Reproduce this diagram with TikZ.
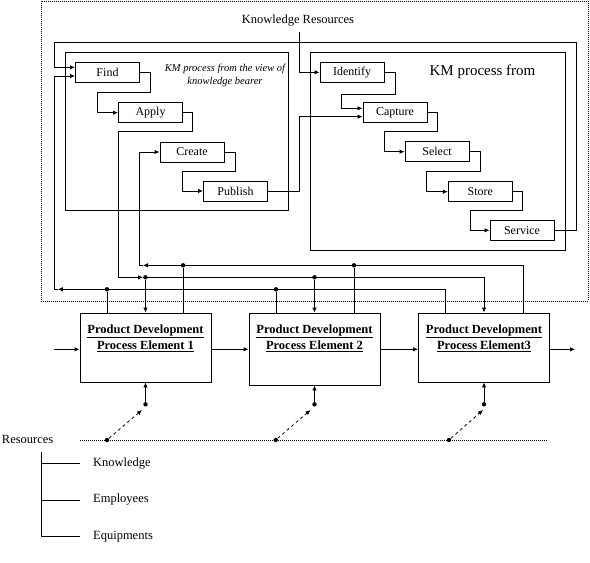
\documentclass[tikz,border=0pt]{standalone}
\usepackage{fontspec}
\setmainfont{Liberation Serif}
\usetikzlibrary{arrows.meta,calc}
\begin{document}
\begin{tikzpicture}[x=1pt,y=-1pt, line width=0.9pt,
 arr/.style={-{Latex[length=5pt,width=4.5pt]}},
 kmbox/.style={draw, minimum width=64pt, minimum height=20pt, inner sep=0pt, font=\fontsize{12}{14}\selectfont},
 container/.style={draw, inner sep=0pt},
 pdbox/.style={draw, minimum width=131pt, inner sep=0pt},
 pdtext/.style={align=center, inner sep=0pt, font=\fontsize{12.5}{16}\selectfont\bfseries},
 jdot/.style={circle, fill, inner sep=0pt, minimum size=4.4pt},
 lbl/.style={font=\fontsize{12.5}{15}\selectfont, inner sep=0pt},
 dotline/.style={line width=0.8pt, dash pattern=on 0.8pt off 1.2pt},
 dashline/.style={line width=0.8pt, dash pattern=on 3pt off 3pt},
]
\useasboundingbox (0,0) rectangle (590,563);

% outer dotted frame
\node[draw, dotline, minimum width=547pt, minimum height=300pt, inner sep=0pt] (frame) at (314.5,151) {};

% containers
\node[container, minimum width=222.6pt, minimum height=157.7pt] (leftkm) at (177,131.2) {};
\node[container, minimum width=255.3pt, minimum height=197.7pt] (rightkm) at (437.7,151.2) {};

% titles
\node[lbl] (kr) at (298,21) {Knowledge Resources};
\node[font=\fontsize{10.5}{13.3}\selectfont\itshape, align=center, inner sep=0pt] (lefttitle) at (225,75.7) {KM process from the view of\\knowledge bearer};
\node[font=\fontsize{15}{18}\selectfont, inner sep=0pt] (righttitle) at (482.5,72) {KM process from};

% KM steps
\node[kmbox] (find) at (107.5,72.3) {Find};
\node[kmbox] (apply) at (150.5,112.7) {Apply};
\node[kmbox] (create) at (192,152) {Create};
\node[kmbox] (publish) at (235.5,191) {Publish};
\node[kmbox] (identify) at (352,72.3) {Identify};
\node[kmbox] (capture) at (395,112.7) {Capture};
\node[kmbox] (select) at (437,151.7) {Select};
\node[kmbox] (store) at (480.3,191.7) {Store};
\node[kmbox] (service) at (522,230.3) {Service};

% process elements
\node[pdbox, minimum height=69pt] (p1) at (145.5,347.5) {};
\node[pdbox, minimum height=72pt] (p2) at (314.5,349) {};
\node[pdbox, minimum height=69pt] (p3) at (484,347.5) {};
\node[pdtext] (p1t) at (145.5,338) {\underline{Product Development}\\\underline{Process Element 1}};
\node[pdtext] (p2t) at (314.5,338) {\underline{Product Development}\\\underline{Process Element 2}};
\node[pdtext] (p3t) at (484,338) {\underline{Product Development}\\\underline{Process Element3}};

% KM internal flows
\coordinate (krs) at (299.3,32);
\draw[arr] (krs) |- (identify.west);
\draw[arr] (find.east) -- (150.7,72.3) |- (97.3,92.7) |- (apply.west);
\draw[arr] (create.east) -- (235,152) |- (182.7,171.7) |- (publish.west);
\draw[arr] (identify.east) -- (395,72.3) |- (341,94) |- ($(capture.west)+(0,-4.4)$);
\draw[arr] (publish.east) -- (299.7,191) |- ($(capture.west)+(0,4)$);
\draw[arr] (capture.east) -- (437.7,112.7) |- (384.3,131.7) |- (select.west);
\draw[arr] (select.east) -- (480,151.7) |- (426.7,171.7) |- (store.west);
\draw[arr] (store.east) -- (522.3,191.7) |- (470,210.7) |- (service.west);
\draw[arr] (service.east) -- (576,230.3) |- (54.3,42.3) |- ($(find.west)+(0,-5)$);

% line 2 (Apply -> process elements)
\coordinate (l2a) at (143,277.3);
\draw[arr] (apply.east) -- (192.3,112.7) |- (118.3,131) |- (l2a);
\draw[arr] (l2a) -| (p3.north);
\node[jdot] (j21) at (145.5,277.3) {};
\node[jdot] (j22) at (314.5,277.3) {};
\draw[arr] (j21) -- (p1.north);
\draw[arr] (j22) -- (p2.north);

% line 1 (process elements -> Create)
\coordinate (l1a) at (143,265.3);
\draw[arr] ($(p3.north)+(39,0)$) |- (l1a);
\draw[arr] (l1a) -- (139.3,265.3) |- (create.west);
\node[jdot] (j11) at (183,265.3) {};
\node[jdot] (j12) at (354,265.3) {};
\draw (j11) -- (j11 |- p1.north);
\draw (j12) -- (j12 |- p2.north);

% line 3 (process elements -> Find)
\coordinate (l3a) at (57.8,289.3);
\draw[arr] ($(p3.north)+(-39,0)$) |- (l3a);
\draw[arr] (l3a) -- (54.3,289.3) |- ($(find.west)+(0,3.7)$);
\node[jdot] (j31) at (107,289.3) {};
\node[jdot] (j32) at (276,289.3) {};
\draw (j31) -- (j31 |- p1.north);
\draw (j32) -- (j32 |- p2.north);

% process chain
\coordinate (inA) at (54,349.3);
\coordinate (outA) at (575,349.3);
\draw[arr] (inA) -- (inA -| p1.west);
\draw[arr] (p1.east |- inA) -- (p2.west |- inA);
\draw[arr] (p2.east |- inA) -- (p3.west |- inA);
\draw[arr] (p3.east |- inA) -- (outA);

% resources connections
\node[jdot] (b1) at (145.5,404.3) {};
\node[jdot] (b2) at (314.5,404.3) {};
\node[jdot] (b3) at (484,404.3) {};
\draw[arr] (b1) -- (p1.south);
\draw[arr] (b2) -- (p2.south);
\draw[arr] (b3) -- (p3.south);

\coordinate (rl) at (80,440);
\coordinate (rr) at (548,440);
\draw[dotline] (rl) -- (rr);
\node[jdot] (r1) at (107,440) {};
\node[jdot] (r2) at (275.7,440) {};
\node[jdot] (r3) at (449,440) {};
\coordinate (d1) at (142,410);
\coordinate (d2) at (310.5,410);
\coordinate (d3) at (483,410);
\draw[arr, dashline] (r1) -- (d1);
\draw[arr, dashline] (r2) -- (d2);
\draw[arr, dashline] (r3) -- (d3);

% resources tree
\node[lbl, anchor=west] (res) at (1.5,439) {Resources};
\node[lbl, anchor=west] (kn) at (92.7,463.5) {Knowledge};
\node[lbl, anchor=west] (em) at (92.7,500) {Employees};
\node[lbl, anchor=west] (eq) at (92.7,536.3) {Equipments};
\coordinate (t0) at (41.7,452);
\draw (t0) |- (80,536.3);
\draw (41.7,463.5) -- (80,463.5);
\draw (41.7,500) -- (80,500);
\end{tikzpicture}
\end{document}
